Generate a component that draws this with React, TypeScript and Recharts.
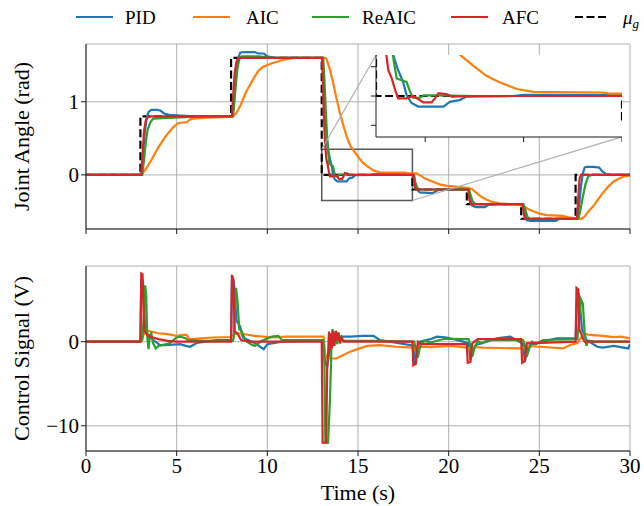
import React from 'react';
import {
  LineChart,
  Line,
  XAxis,
  YAxis,
  CartesianGrid,
  ReferenceArea,
  ReferenceLine,
} from 'recharts';

type Pt = [number, number];

const FONT = '"Liberation Serif", "DejaVu Serif", serif';
const COLORS = { pid: '#1f77b4', aic: '#ff7f0e', reaic: '#2ca02c', afc: '#d62728', ref: '#000000' };

const timeTicks = [0, 5, 10, 15, 20, 25, 30];
const angleTicks = [0, 1];
const controlTicks = [-10, 0];
const insetTimeTicks = [14, 16, 18];
const insetAngleTicks = [-0.25, 0, 0.25];

// reference joint angle (mu_g)
const refAngle: Pt[] = [
  [0, 0], [3, 0], [3, 0.8], [8, 0.8], [8, 1.6], [13, 1.6], [13, 0], [18, 0], [18, -0.2],
  [21, -0.2], [21, -0.4], [24, -0.4], [24, -0.6], [27, -0.6], [27, 0], [30, 0],
];

const pidAngle: Pt[] = [
  [0, 0], [3.05, 0], [3.15, 0.3], [3.25, 0.6], [3.35, 0.78], [3.45, 0.86], [3.6, 0.89], [3.9, 0.89],
  [4.1, 0.88], [4.3, 0.84], [4.6, 0.82], [5.2, 0.81], [6, 0.8], [8.08, 0.8], [8.18, 1.05], [8.28, 1.35],
  [8.38, 1.58], [8.5, 1.67], [8.7, 1.68], [9.3, 1.68], [9.5, 1.66], [9.8, 1.66], [10, 1.62], [10.4, 1.6],
  [13.05, 1.6], [13.12, 1.2], [13.2, 0.8], [13.28, 0.5], [13.35, 0.35], [13.45, 0.22], [13.55, 0.12],
  [13.62, 0.01], [13.72, -0.06], [13.86, -0.09], [14.37, -0.09], [14.5, -0.05], [14.7, -0.035],
  [14.84, -0.005], [15.8, 0], [16, 0.01], [18.08, 0.01], [18.15, -0.1], [18.25, -0.2], [18.4, -0.24],
  [19.1, -0.25], [19.4, -0.21], [19.7, -0.2], [21.1, -0.2], [21.2, -0.32], [21.3, -0.42], [21.5, -0.44],
  [22, -0.44], [22.2, -0.41], [22.5, -0.4], [24.1, -0.4], [24.2, -0.52], [24.3, -0.62], [24.5, -0.63],
  [25.9, -0.63], [26.1, -0.6], [27.1, -0.6], [27.2, -0.4], [27.3, -0.15], [27.4, 0.02], [27.5, 0.1],
  [27.6, 0.11], [28, 0.11], [28.3, 0.1], [28.5, 0.04], [28.7, 0.01], [29, 0], [30, 0],
];

const aicAngle: Pt[] = [
  [0, 0], [3.05, 0], [3.3, 0.08], [3.6, 0.2], [4, 0.38], [4.4, 0.53], [4.8, 0.65], [5.1, 0.71],
  [5.55, 0.72], [5.75, 0.76], [5.9, 0.77], [6.5, 0.78], [7.5, 0.79], [8.1, 0.8], [8.3, 0.85],
  [8.5, 0.94], [8.8, 1.12], [9.2, 1.3], [9.5, 1.42], [9.77, 1.48], [10.3, 1.53], [10.6, 1.55],
  [10.8, 1.57], [11.2, 1.59], [11.6, 1.6], [13.2, 1.6], [13.27, 1.58], [13.45, 1.44], [13.63, 1.26],
  [13.8, 1.06], [14, 0.85], [14.2, 0.67], [14.38, 0.52], [14.6, 0.39], [14.74, 0.34], [15, 0.25],
  [15.25, 0.17], [15.5, 0.12], [15.86, 0.06], [16.2, 0.035], [17.6, 0.03], [17.75, 0.02], [18.2, 0.02],
  [18.4, 0], [18.7, -0.05], [19.1, -0.09], [19.5, -0.13], [19.9, -0.15], [20.4, -0.16], [21.1, -0.18],
  [21.3, -0.2], [21.55, -0.25], [21.8, -0.3], [22.1, -0.34], [22.4, -0.37], [22.8, -0.39], [23.9, -0.41],
  [24.2, -0.44], [24.4, -0.47], [24.7, -0.5], [25, -0.53], [25.4, -0.55], [26.3, -0.56], [26.6, -0.58],
  [27.3, -0.6], [27.5, -0.57], [27.7, -0.5], [27.97, -0.43], [28.2, -0.35], [28.5, -0.25], [28.8, -0.16],
  [29.1, -0.09], [29.4, -0.05], [29.7, -0.02], [30, -0.01],
];

const reaicAngle: Pt[] = [
  [0, 0], [3.1, 0], [3.2, 0.2], [3.3, 0.45], [3.4, 0.62], [3.55, 0.72], [3.7, 0.77], [4.5, 0.78],
  [5.5, 0.79], [6, 0.8], [8.1, 0.8], [8.15, 0.9], [8.25, 1.2], [8.35, 1.45], [8.45, 1.58], [8.6, 1.62],
  [9.5, 1.62], [9.9, 1.61], [10.2, 1.6], [13.08, 1.6], [13.15, 1.3], [13.22, 0.9], [13.3, 0.5],
  [13.36, 0.3], [13.42, 0.15], [13.55, 0.13], [13.62, 0.12], [13.69, 0.04], [13.75, -0.015],
  [13.9, -0.015], [13.96, 0.005], [14.3, 0.005], [15, 0], [18.08, 0], [18.15, -0.1], [18.3, -0.19],
  [18.5, -0.2], [21.12, -0.2], [21.3, -0.35], [21.45, -0.4], [24.12, -0.4], [24.2, -0.45],
  [24.35, -0.58], [24.5, -0.6], [27.15, -0.6], [27.25, -0.5], [27.4, -0.3], [27.55, -0.12],
  [27.7, -0.02], [27.9, 0], [30, 0],
];

const afcAngle: Pt[] = [
  [0, 0], [3.05, 0], [3.12, 0.3], [3.2, 0.6], [3.3, 0.75], [3.4, 0.79], [3.6, 0.8], [8.05, 0.8],
  [8.12, 1.1], [8.2, 1.4], [8.3, 1.55], [8.4, 1.6], [13.02, 1.6], [13.07, 1.2], [13.12, 0.8],
  [13.17, 0.5], [13.21, 0.35], [13.25, 0.22], [13.32, 0.15], [13.39, 0.05], [13.45, -0.02],
  [13.62, -0.02], [13.76, 0], [13.89, -0.035], [13.96, -0.055], [14.13, -0.055], [14.2, -0.02],
  [14.27, 0.025], [14.44, 0.015], [14.54, -0.005], [15, 0], [18.05, 0], [18.12, -0.15], [18.2, -0.2],
  [21.08, -0.2], [21.15, -0.35], [21.22, -0.4], [24.08, -0.4], [24.15, -0.55], [24.22, -0.6],
  [27.08, -0.6], [27.15, -0.3], [27.22, -0.05], [27.3, 0], [30, 0],
];

const pidControl: Pt[] = [
  [0, 0], [3, 0], [3.05, 7.5], [3.15, 7], [3.25, 2], [3.4, 0.8], [3.5, 0.6], [3.7, 0.2], [4.08, -0.4],
  [4.4, -0.4], [5.2, -0.3], [5.5, -0.5], [5.74, -0.6], [6.1, -0.15], [6.6, 0], [7.2, 0.2], [8, 0.2],
  [8.05, 7.6], [8.15, 7.2], [8.3, 2.5], [8.5, 1.8], [8.65, 0.5], [8.85, 0.3], [9.3, -0.15], [9.6, -0.6],
  [9.8, -0.9], [10, -0.3], [10.8, 0], [12, 0.1], [13, 0.15], [13.1, -1], [13.2, -2.5], [13.3, -3],
  [13.4, -1.5], [13.55, -0.3], [13.7, 0.5], [14, 0.6], [14.56, 0.6], [15.3, 0.7], [15.85, 0.7],
  [16.2, 0.2], [17, -0.1], [17.9, -0.4], [18.05, -0.5], [18.15, -2.8], [18.25, -1], [18.4, 0],
  [19, 0.3], [19.35, 0.6], [19.9, 0.5], [20.8, 0], [21.1, -0.2], [21.2, -2.2], [21.35, -1],
  [21.5, -0.4], [22.1, 0], [22.65, 0.4], [23.4, 0.6], [23.9, 0], [24.1, -0.3], [24.2, -2.4],
  [24.35, -0.8], [24.5, -0.4], [25.2, 0], [25.95, 0.4], [27, 0.4], [27.1, 6], [27.2, 5.5],
  [27.35, 1.5], [27.6, 0.2], [28.2, -0.6], [28.5, -0.7], [29.1, -0.5], [29.9, -0.8], [30, -0.3],
];

const aicControl: Pt[] = [
  [0, 0], [3, 0], [3.1, 0.3], [3.2, 1], [3.35, 1.3], [3.6, 1.2], [4, 1], [4.5, 0.9], [5, 0.7],
  [5.3, 0.8], [5.55, 0.8], [5.7, 0.3], [5.9, 0.3], [6.3, 0.4], [7, 0.5], [7.95, 0.55], [8.1, 0.8],
  [8.4, 1], [9.3, 0.7], [10.4, 0.5], [11, 0.6], [12, 0.6], [13.1, 0.6], [13.2, -1.5], [13.3, -2],
  [13.8, -2], [14.56, -1.2], [15.1, -0.8], [15.5, -0.5], [16.2, -0.4], [17.1, -0.6], [18.05, -0.7],
  [18.1, -0.9], [18.2, -0.6], [19, -0.65], [20.1, -0.5], [21, -0.7], [21.1, -0.9], [21.2, -0.6],
  [21.9, -0.7], [23.75, -0.8], [24, -0.8], [24.3, -0.5], [25, -0.6], [26.3, -0.8], [26.7, -0.4],
  [27.1, -0.15], [27.3, 0.5], [27.6, 0.9], [27.8, 0.8], [28.5, 0.7], [29.1, 0.55], [29.5, 0.6],
  [30, 0.4],
];

const reaicControl: Pt[] = [
  [0, 0], [3, 0], [3.1, 0.2], [3.2, 3], [3.26, 6.7], [3.32, 5.5], [3.38, 0.5], [3.45, -0.9],
  [3.52, 0.8], [3.6, 1], [3.7, -0.2], [3.85, -0.8], [4, -0.5], [4.2, -0.4], [4.6, -0.2], [5, 0.5],
  [5.2, 0.6], [5.5, 0.4], [5.6, 0.2], [6.5, 0.1], [8.1, 0.1], [8.15, 0.5], [8.2, 3], [8.27, 6.4],
  [8.35, 5], [8.45, 1.5], [8.6, 1.2], [8.8, 0.1], [9.1, -0.3], [9.3, -0.5], [9.7, 0.1], [10.25, 0.6],
  [10.6, 0.7], [10.8, 0.2], [12, 0.2], [13.1, 0.2], [13.15, -3], [13.2, -12], [13.35, -12],
  [13.45, -7], [13.5, -3.5], [13.55, 0.5], [13.6, 1.5], [13.65, -0.5], [13.75, 1.2], [13.85, -0.3],
  [13.95, 0.8], [14.1, 0.2], [14.3, 0.1], [16, 0.1], [18.1, 0], [18.2, -1], [18.3, -1.9], [18.4, -0.8],
  [18.5, -0.2], [18.7, 0.1], [19, -0.1], [19.5, 0.2], [19.8, 0.35], [21.1, 0.3], [21.2, -0.5],
  [21.3, -1.8], [21.45, -0.6], [21.6, 0.1], [21.8, -0.2], [22.2, 0.2], [24.1, 0.2], [24.2, -0.5],
  [24.3, -1.8], [24.45, -0.8], [24.6, 0], [24.8, -0.3], [25.2, 0.2], [27.1, 0.3], [27.2, 3],
  [27.3, 5], [27.4, 4.5], [27.5, 1], [27.6, -0.5], [27.7, 0.1], [28, 0], [30, 0],
];

const afcControl: Pt[] = [
  [0, 0], [3, 0], [3.05, 8.1], [3.12, 8], [3.2, 1.5], [3.3, 1], [3.5, 0.6], [4, 0.3], [4.5, 0.1],
  [5, 0], [8, 0], [8.05, 7.9], [8.12, 7.5], [8.2, 1.2], [8.35, 1], [8.55, 0.2], [9, 0], [13, 0],
  [13.05, -12], [13.25, -12], [13.3, -3], [13.35, -1.5], [13.4, 1.2], [13.45, -1], [13.5, 1],
  [13.55, -0.8], [13.62, 1.3], [13.7, -0.5], [13.78, 1.3], [13.85, 0.2], [13.92, 1.1], [14, -0.2],
  [14.1, 0.5], [14.2, 0], [18, 0], [18.05, -2.8], [18.2, -2.6], [18.3, 0], [18.5, -0.3], [21, -0.3],
  [21.05, -2.5], [21.2, -2.4], [21.3, -0.2], [21.6, 0.3], [24, 0.3], [24.05, -2.5], [24.2, -2.3],
  [24.3, -0.2], [27, 0], [27.05, 6.4], [27.15, 6.2], [27.2, 1.5], [27.3, 1], [27.4, 0.4], [27.5, 0],
  [30, 0],
];

const rows = (pts: Pt[]) => pts.map(([t, v]) => ({ t, v }));

const SERIES = [
  { name: 'PID', color: COLORS.pid, angle: rows(pidAngle), control: rows(pidControl) },
  { name: 'AIC', color: COLORS.aic, angle: rows(aicAngle), control: rows(aicControl) },
  { name: 'ReAIC', color: COLORS.reaic, angle: rows(reaicAngle), control: rows(reaicControl) },
  { name: 'AFC', color: COLORS.afc, angle: rows(afcAngle), control: rows(afcControl) },
];
const REF = rows(refAngle);

// layout of the top panel, used to place the zoom inset
const W = 644;
const PLOT_L = 86;
const PLOT_R = 14;
const PLOT_W = W - PLOT_L - PLOT_R;
const TOP_T = 44;
const PLOT_H = 185;
const TIME_DOMAIN: [number, number] = [0, 30];
const ANGLE_DOMAIN: [number, number] = [-0.74, 1.79];
const CONTROL_DOMAIN: [number, number] = [-13, 9];
const ZOOM_T: [number, number] = [13, 18];
const ZOOM_V: [number, number] = [-0.35, 0.35];
const INSET_T: [number, number] = [16, 29.55];
const INSET_V: [number, number] = [0.52, 1.64];

const px = (t: number) => PLOT_L + ((t - TIME_DOMAIN[0]) / (TIME_DOMAIN[1] - TIME_DOMAIN[0])) * PLOT_W;
const py = (v: number) => TOP_T + ((ANGLE_DOMAIN[1] - v) / (ANGLE_DOMAIN[1] - ANGLE_DOMAIN[0])) * PLOT_H;

const insetL = Math.round(px(INSET_T[0]));
const insetT = Math.round(py(INSET_V[1]));
const insetW = Math.round(px(INSET_T[1])) - insetL;
const insetH = Math.round(py(INSET_V[0])) - insetT;

const TICK = { fill: '#000', fontSize: 21, fontFamily: FONT };
const LABEL_STYLE = { textAnchor: 'middle' as const, fontSize: 22, fontFamily: FONT, fill: '#000' };
const noLabel = () => '';
const fmt = (v: number) => (v < 0 ? `\u2212${Math.abs(v)}` : `${v}`);
const FRAME = { stroke: '#1a1a1a', strokeWidth: 1 };
const DASH = '8 3.5';
const LW = 2.2;

function TopLegend() {
  const items = [
    { name: 'PID', color: COLORS.pid, x1: 76, tx: 125 },
    { name: 'AIC', color: COLORS.aic, x1: 193, tx: 246 },
    { name: 'ReAIC', color: COLORS.reaic, x1: 312, tx: 362 },
    { name: 'AFC', color: COLORS.afc, x1: 451, tx: 502 },
  ];
  return (
    <svg width={W} height={34} style={{ position: 'absolute', left: 0, top: 0 }}>
      {items.map((it) => (
        <g key={it.name}>
          <line x1={it.x1} x2={it.x1 + 37} y1={17} y2={17} stroke={it.color} strokeWidth={LW} />
          <text x={it.tx} y={24} fontSize={19} fontFamily={FONT} fill="#000">
            {it.name}
          </text>
        </g>
      ))}
      <line x1={575} x2={608} y1={17} y2={17} stroke="#000" strokeWidth={LW} strokeDasharray={DASH} />
      <text x={623} y={24} fontSize={19} fontFamily={FONT} fill="#000" fontStyle="italic">
        μ
        <tspan fontSize={13} dy={4}>g</tspan>
      </text>
    </svg>
  );
}

export default function App() {
  return (
    <div style={{ position: 'fixed', left: 0, top: 0, width: W, height: 506, background: '#fff', overflow: 'hidden' }}>
      <TopLegend />

      {/* joint angle */}
      <div style={{ position: 'absolute', left: 0, top: 0 }}>
        <LineChart width={W} height={TOP_T + PLOT_H + 11} margin={{ top: TOP_T, right: PLOT_R, bottom: 0, left: 0 }}>
          <CartesianGrid stroke="#b0b0b0" strokeWidth={1} />
          <XAxis
            dataKey="t"
            type="number"
            domain={TIME_DOMAIN}
            ticks={timeTicks}
            interval={0}
            allowDataOverflow
            height={11}
            tickSize={5}
            tickFormatter={noLabel}
            axisLine={FRAME}
            tickLine={FRAME}
          />
          <XAxis xAxisId="top" orientation="top" type="number" domain={TIME_DOMAIN} height={0} tick={false} tickLine={false} axisLine={FRAME} />
          <YAxis
            type="number"
            domain={ANGLE_DOMAIN}
            ticks={angleTicks}
            interval={0}
            allowDataOverflow
            width={PLOT_L}
            tickSize={5}
            tick={TICK}
            tickFormatter={fmt}
            axisLine={FRAME}
            tickLine={FRAME}
            label={{ value: 'Joint Angle (rad)', angle: -90, position: 'insideLeft', offset: 21, style: LABEL_STYLE }}
          />
          <YAxis yAxisId="right" orientation="right" type="number" domain={[0, 1]} width={0} tick={false} tickLine={false} axisLine={FRAME} />
          <Line data={REF} dataKey="v" type="linear" stroke={COLORS.ref} strokeWidth={LW} strokeDasharray={DASH} dot={false} isAnimationActive={false} />
          {SERIES.map((s) => (
            <Line key={s.name} data={s.angle} dataKey="v" name={s.name} type="linear" stroke={s.color} strokeWidth={LW} dot={false} isAnimationActive={false} />
          ))}
          <ReferenceArea x1={ZOOM_T[0]} x2={ZOOM_T[1]} y1={ZOOM_V[0]} y2={ZOOM_V[1]} fill="none" stroke="#595959" strokeWidth={1.5} />
          <ReferenceLine segment={[{ x: ZOOM_T[0], y: ZOOM_V[1] }, { x: INSET_T[0], y: INSET_V[1] }]} stroke="#b0b0b0" strokeWidth={1.2} />
          <ReferenceLine segment={[{ x: ZOOM_T[1], y: ZOOM_V[0] }, { x: INSET_T[1], y: INSET_V[0] }]} stroke="#b0b0b0" strokeWidth={1.2} />
        </LineChart>
      </div>

      {/* zoom inset */}
      <div style={{ position: 'absolute', left: insetL, top: insetT, width: insetW, height: insetH, background: '#fff' }} />
      <div style={{ position: 'absolute', left: insetL - 10, top: insetT }}>
        <LineChart width={insetW + 10} height={insetH + 10} margin={{ top: 0, right: 0, bottom: 0, left: 0 }}>
          <XAxis
            dataKey="t"
            type="number"
            domain={ZOOM_T}
            ticks={insetTimeTicks}
            interval={0}
            allowDataOverflow
            height={10}
            tickSize={5}
            tickFormatter={noLabel}
            axisLine={FRAME}
            tickLine={FRAME}
          />
          <XAxis xAxisId="top" orientation="top" type="number" domain={ZOOM_T} height={0} tick={false} tickLine={false} axisLine={FRAME} />
          <YAxis
            type="number"
            domain={ZOOM_V}
            ticks={insetAngleTicks}
            interval={0}
            allowDataOverflow
            width={10}
            tickSize={5}
            tickFormatter={noLabel}
            axisLine={FRAME}
            tickLine={FRAME}
          />
          <YAxis yAxisId="right" orientation="right" type="number" domain={[0, 1]} width={0} tick={false} tickLine={false} axisLine={FRAME} />
          <Line data={REF} dataKey="v" type="linear" stroke={COLORS.ref} strokeWidth={LW} strokeDasharray={DASH} dot={false} isAnimationActive={false} />
          {SERIES.map((s) => (
            <Line key={s.name} data={s.angle} dataKey="v" type="linear" stroke={s.color} strokeWidth={LW} dot={false} isAnimationActive={false} />
          ))}
        </LineChart>
      </div>

      {/* control signal */}
      <div style={{ position: 'absolute', left: 0, top: 230 }}>
        <LineChart width={W} height={276} margin={{ top: 36, right: PLOT_R, bottom: 0, left: 0 }}>
          <CartesianGrid stroke="#b0b0b0" strokeWidth={1} />
          <XAxis
            dataKey="t"
            type="number"
            domain={TIME_DOMAIN}
            ticks={timeTicks}
            interval={0}
            allowDataOverflow
            height={55}
            tickSize={5}
            tick={TICK}
            axisLine={FRAME}
            tickLine={FRAME}
            label={{ value: 'Time (s)', position: 'insideBottom', offset: 6, style: LABEL_STYLE }}
          />
          <XAxis xAxisId="top" orientation="top" type="number" domain={TIME_DOMAIN} height={0} tick={false} tickLine={false} axisLine={FRAME} />
          <YAxis
            type="number"
            domain={CONTROL_DOMAIN}
            ticks={controlTicks}
            interval={0}
            allowDataOverflow
            width={PLOT_L}
            tickSize={5}
            tick={TICK}
            tickFormatter={fmt}
            axisLine={FRAME}
            tickLine={FRAME}
            label={{ value: 'Control Signal (V)', angle: -90, position: 'insideLeft', offset: 21, style: LABEL_STYLE }}
          />
          <YAxis yAxisId="right" orientation="right" type="number" domain={[0, 1]} width={0} tick={false} tickLine={false} axisLine={FRAME} />
          {SERIES.map((s) => (
            <Line key={s.name} data={s.control} dataKey="v" name={s.name} type="linear" stroke={s.color} strokeWidth={LW} dot={false} isAnimationActive={false} />
          ))}
        </LineChart>
      </div>
    </div>
  );
}
